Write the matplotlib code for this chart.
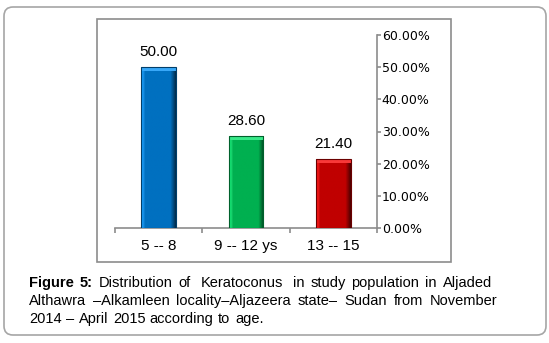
import numpy as np
import matplotlib
matplotlib.use('Agg')
import matplotlib.pyplot as plt
from matplotlib.patches import FancyBboxPatch, Rectangle
from matplotlib.colors import to_rgb
from matplotlib.transforms import IdentityTransform

age_groups = ['5 -- 8', '9 -- 12 ys', '13 -- 15']
percent = [50.00, 28.60, 21.40]
bar_colors = ['#0070C0', '#00B050', '#C00000']
y_ticks = [0, 10, 20, 30, 40, 50, 60]

caption_lines = [
    [('Figure', 'bold'), ('5:', 'bold'), ('Distribution', 'normal'), ('of', 'normal'),
     ('', 'normal'), ('Keratoconus', 'normal'), ('', 'normal'), ('in', 'normal'),
     ('study', 'normal'), ('population', 'normal'), ('in', 'normal'), ('Aljaded', 'normal')],
    [(w, 'normal') for w in 'Althawra –Alkamleen locality–Aljazeera state– Sudan from November'.split(' ')],
    [(w, 'normal') for w in '2014 – April 2015 according to age.'.split(' ')],
]

W, H = 549, 343
fig = plt.figure(figsize=(W / 100, H / 100), dpi=100)
px = IdentityTransform()

# outer rounded frame and inner chart frame (pixel coords, y from bottom)
fig.add_artist(FancyBboxPatch((4, H - 335), 542, 328, boxstyle='round,pad=0,rounding_size=9',
                              transform=px, facecolor='white', edgecolor='#a6a6a6', lw=1.2, zorder=-2))
fig.add_artist(Rectangle((97, H - 262), 354, 243, transform=px,
                         facecolor='white', edgecolor='#8c8c8c', lw=1.2, zorder=-1))

ax = fig.add_axes([115 / W, (H - 228) / H, 262 / W, 193 / H])
ax.patch.set_alpha(0)
x = np.arange(len(age_groups))
bars = ax.bar(x, percent, width=0.4, color=bar_colors, edgecolor='none', zorder=2)

# bevel look: horizontal shading clipped to each bar
for b, c in zip(bars, bar_colors):
    base = np.array(to_rgb(c))
    t = np.linspace(0, 1, 60)
    shade = np.where(t < 0.1, 1.25 - 0.25 * t / 0.1, np.where(t > 0.85, 1 - 0.6 * (t - 0.85) / 0.15, 1.0))
    img = np.clip(base[None, None, :] * shade[None, :, None] + (shade[None, :, None] > 1) * 0.08, 0, 1)
    img = np.repeat(img, 2, axis=0)
    x0, y0 = b.get_x(), b.get_y()
    im = ax.imshow(img, extent=[x0, x0 + b.get_width(), y0, y0 + b.get_height()],
                   aspect='auto', zorder=3, interpolation='bilinear')
    im.set_clip_path(b)
    ax.add_patch(Rectangle((x0, b.get_height() - 1.3), b.get_width(), 1.3,
                           facecolor=np.clip(base + 0.22, 0, 1), edgecolor='none', zorder=4))
    ax.add_patch(Rectangle((x0, 0), b.get_width(), b.get_height(), facecolor='none',
                           edgecolor=np.clip(base * 0.55, 0, 1), lw=0.8, zorder=5))

for xi, v in zip(x, percent):
    ax.annotate(f'{v:.2f}', (xi, v), xytext=(0, 6), textcoords='offset points',
                ha='center', va='bottom', fontsize=11, family='Liberation Sans')

ax.set_xlim(-0.5, 2.5)
ax.set_ylim(0, 60)
for s in ['top', 'left']:
    ax.spines[s].set_visible(False)
for s in ['bottom', 'right']:
    ax.spines[s].set_color('#8c8c8c')
    ax.spines[s].set_linewidth(1.2)

ax.set_xticks(x)
ax.set_xticklabels(age_groups, fontsize=11, family='Liberation Sans')
ax.set_xticks([-0.5, 0.5, 1.5, 2.5], minor=True)
ax.tick_params(axis='x', which='major', length=0, pad=8)
ax.tick_params(axis='x', which='minor', length=3.5, width=1.2, color='#8c8c8c', direction='out')

ax.yaxis.tick_right()
ax.set_yticks(y_ticks)
ax.set_yticklabels([f'{v:.2f}%' for v in y_ticks], fontsize=9, family='DejaVu Sans')
ax.tick_params(axis='y', length=3, width=1.2, color='#8c8c8c', direction='out', pad=0.5)

# justified caption
renderer = fig.canvas.get_renderer()
left, right = 29, 497
baselines = [H - 287, H - 305, H - 323]
for li, (line, yb) in enumerate(zip(caption_lines, baselines)):
    texts = []
    for w, wt in line:
        if w == '':
            texts.append(None)
            continue
        t = fig.text(0, yb, w, transform=px, fontsize=10.5, family='Liberation Sans',
                     weight=wt, ha='left', va='baseline')
        texts.append(t)
    widths = [t.get_window_extent(renderer).width if t is not None else 0 for t in texts]
    n_gaps = len(texts) - 1
    if li < len(caption_lines) - 1:
        gap = (right - left - sum(widths)) / n_gaps
    else:
        gap = 4.5
    xpos = left
    for t, wdt in zip(texts, widths):
        if t is not None:
            t.set_x(xpos)
            xpos += wdt + gap
        else:
            xpos += gap * 0.6

fig.savefig('out.png', dpi=100)
